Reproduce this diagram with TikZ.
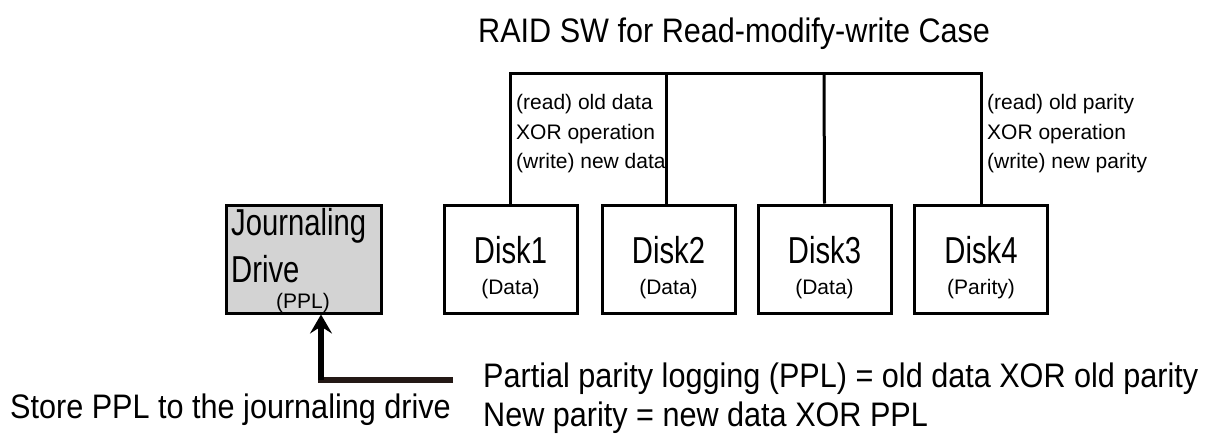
\documentclass[tikz,border=0pt]{standalone}
\usepackage{fontspec}
\setmainfont{Liberation Sans}
\newfontfamily\widefont[FakeStretch=0.9]{Liberation Sans}
\newfontfamily\narrowfont[FakeStretch=0.78]{Liberation Sans}
\usetikzlibrary{arrows.meta}
\definecolor{drivegray}{RGB}{211,211,211}
\definecolor{logbrown}{RGB}{35,24,21}

\begin{document}
\begin{tikzpicture}[
  x=1pt, y=-1pt,
  disk/.style={draw, line width=3pt, minimum width=133pt, minimum height=108pt, inner sep=0pt},
  jdrive/.style={disk, fill=drivegray, minimum width=155pt},
  dname/.style={font=\narrowfont\fontsize{37.5}{37.5}\selectfont, inner sep=0pt, anchor=base},
  dsub/.style={font=\fontsize{21}{21}\selectfont, inner sep=0pt, anchor=base},
  oplabel/.style={font=\fontsize{21}{29.5}\selectfont, align=left, inner sep=0pt, anchor=base west},
  bigtext/.style={font=\widefont\fontsize{34}{38}\selectfont, inner sep=0pt, anchor=base west},
  busline/.style={line width=3pt},
  >={Stealth[length=19pt,width=22pt,inset=7pt]}
]
\useasboundingbox (0,0) rectangle (1219,439);

\node[bigtext] (title) at (478,42) {RAID SW for Read-modify-write Case};

% disks
\node[disk] (d1) at (510.5,259) {};
\node[disk] (d2) at (668.5,259) {};
\node[disk] (d3) at (824.5,259) {};
\node[disk] (d4) at (981,259) {};
\node[dname] (n1) at (510.5,263) {Disk1};
\node[dname] (n2) at (668.5,263) {Disk2};
\node[dname] (n3) at (824.5,263) {Disk3};
\node[dname] (n4) at (981,263) {Disk4};
\node[dsub] (s1) at (510.5,294) {(Data)};
\node[dsub] (s2) at (668.5,294) {(Data)};
\node[dsub] (s3) at (824.5,294) {(Data)};
\node[dsub] (s4) at (981,294) {(Parity)};

% journaling drive
\node[jdrive] (jd) at (303.5,259) {};
\node[dname, anchor=base west] (jn1) at (231,235) {Journaling};
\node[dname, anchor=base west] (jn2) at (231,282) {Drive};
\node[dsub] (jsub) at (303,308) {(PPL)};

% bus
\coordinate (b1) at (510.5,73);
\coordinate (b4) at (981,73);
\draw[busline] (d1.north) -- (b1) -- (b4) -- (d4.north);
\draw[busline] (666,73) -- (666,205);
\draw[busline] (824,73) -- (d3.north);

\node[oplabel] (op1) at (516,168.5) {(read) old data\\XOR operation\\(write) new data};
\node[oplabel] (op4) at (987,168.5) {(read) old parity\\XOR operation\\(write) new parity};

% ppl logging
\coordinate (pplend) at (453,380);
\coordinate (corner) at (321,380);
\draw[logbrown, line width=5.5pt] (pplend) -- ([xshift=-3pt]corner);
\draw[line width=6.5pt, ->] (corner) -- (corner |- jd.south);

\node[bigtext] (store) at (10,418) {Store PPL to the journaling drive};
\node[bigtext] (ppl) at (483,387) {Partial parity logging (PPL) = old data XOR old parity};
\node[bigtext] (newp) at (483,426) {New parity = new data XOR PPL};

\end{tikzpicture}
\end{document}
